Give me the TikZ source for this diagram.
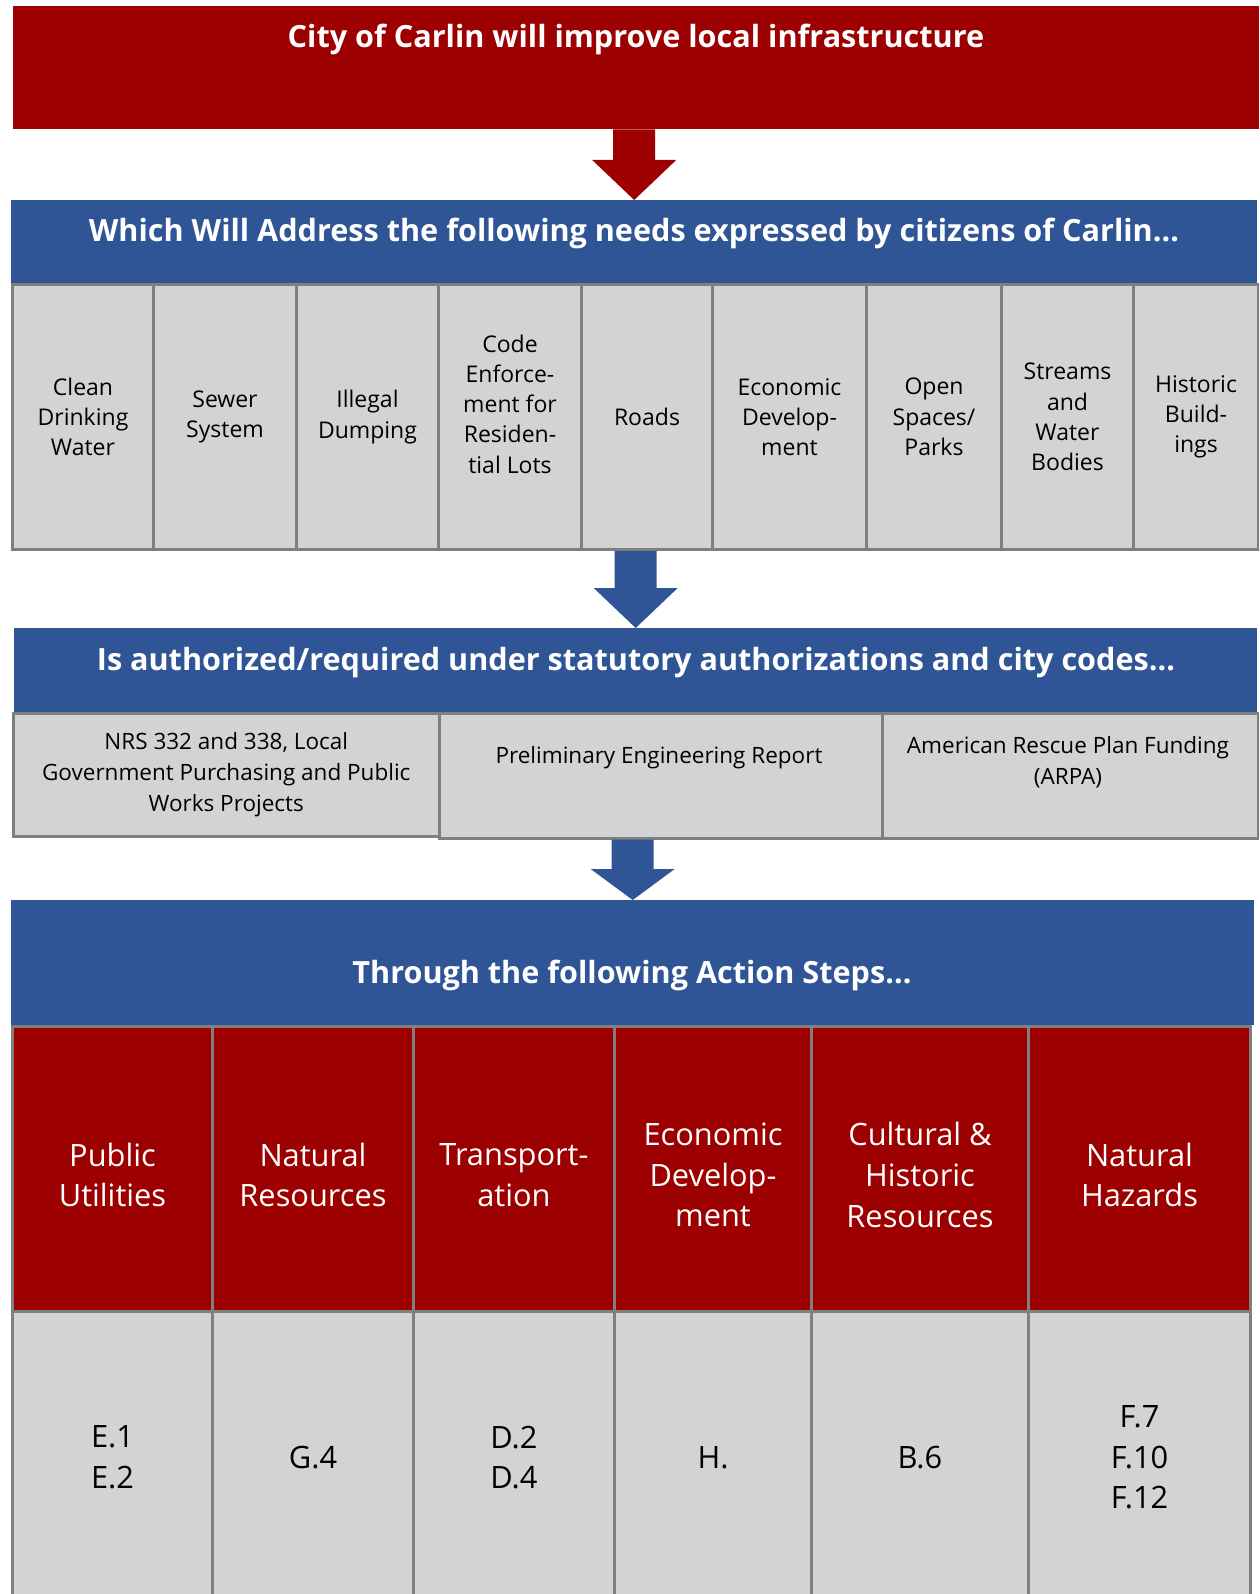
\documentclass[tikz,border=0pt]{standalone}
\usepackage{fontspec}
\setmainfont{Open Sans}
\usetikzlibrary{calc}

\definecolor{carlinred}{HTML}{9C0000}
\definecolor{carlinblue}{HTML}{2F5597}
\definecolor{cellgray}{HTML}{D3D3D3}
\definecolor{edgegray}{HTML}{7F7F7F}

\newcommand{\bandfont}{\fontsize{30.6}{36}\selectfont\bfseries}
\newcommand{\needfont}{\fontsize{23}{30.3}\selectfont}
\newcommand{\lawfont}{\fontsize{22.5}{31}\selectfont}
\newcommand{\stepfont}{\fontsize{30.8}{40.7}\selectfont}

% block arrow: colour, from, to, head length
\newcommand{\blockarrow}[4]{%
  \fill[#1] let \p1=(#2), \p2=(#3) in
    (\x2-21pt,\y1) -- (\x2+21pt,\y1) -- (\x2+21pt,\y2+#4) -- (\x2+42pt,\y2+#4)
    -- (\x2,\y2) -- (\x2-42pt,\y2+#4) -- (\x2-21pt,\y2+#4) -- cycle;}

\tikzset{
  bandbox/.style={inner sep=0pt, anchor=north west},
  bandtext/.style={text=white, font=\bandfont, anchor=base, inner sep=0pt},
  needcell/.style={draw=edgegray, line width=3pt, fill=cellgray, inner sep=0pt,
    anchor=north west, align=center, font=\needfont},
  lawcell/.style={draw=edgegray, line width=2.5pt, fill=cellgray, inner sep=0pt,
    anchor=north west, align=center, font=\lawfont},
  stepcell/.style={draw=edgegray, line width=3pt, fill=carlinred, inner sep=0pt,
    anchor=north west},
  steptext/.style={text=white, align=center, font=\stepfont, yshift=-6pt},
  codecell/.style={draw=edgegray, line width=3pt, fill=cellgray, inner sep=0pt,
    anchor=north west, align=center, font=\stepfont}
}

\begin{document}
\begin{tikzpicture}[x=1pt,y=-1pt]
 % page:
 \clip (0,0) rectangle (1259,1594);
 % goal box:
 \node[bandbox, fill=carlinred, minimum width=1246pt, minimum height=123pt] (goal) at (13,6) {};
 \node[bandtext] (goaltxt) at (636,48) {City of Carlin will improve local infrastructure};
 % needs band:
 \node[bandbox, fill=carlinblue, minimum width=1246pt, minimum height=83pt] (needs) at (11,200) {};
 \node[bandtext] (needstxt) at (634,242) {Which Will Address the following needs expressed by citizens of Carlin…};
 % needs cells:
 \foreach \xa/\xb/\txt [count=\i] in {11/152/{Clean\\Drinking\\Water}, 152/295/{Sewer\\System},
   295/437/{Illegal\\Dumping}, 437/580/{}, 580/711/{Roads}, 711/865/{Economic\\Develop-\\ment},
   865/1000/{Open\\Spaces/\\Parks}, 1000/1132/{Streams\\and\\Water\\Bodies},
   1132/1257/{Historic\\Build-\\ings}}
   \node[needcell, minimum width={(\xb-\xa)*1pt}, minimum height=265pt] (need\i) at (\xa,283) {\txt};
 \node[font=\needfont, align=center, yshift=13pt] (needtxt4) at (need4.center)
   {Code\\Enforce-\\ment for\\Residen-\\tial Lots};
 % authorization band:
 \node[bandbox, fill=carlinblue, minimum width=1243pt, minimum height=84pt] (auth) at (14,628) {};
 \node[bandtext] (authtxt) at (636,670) {Is authorized/required under statutory authorizations and city codes…};
 % authorization cells:
 \node[lawcell, minimum width=426pt, minimum height=123pt] (law1) at (12,712)
   {NRS 332 and 338, Local\\Government Purchasing and Public\\Works Projects};
 \node[lawcell, minimum width=443pt, minimum height=125pt] (law2) at (438,712) {};
 \node[lawcell, minimum width=376pt, minimum height=125pt] (law3) at (881,712) {};
 \node[font=\lawfont, anchor=base] (lawtxt2) at (659,763) {Preliminary Engineering Report};
 \node[font=\lawfont, align=center] (lawtxt3) at (1068,762) {American Rescue Plan Funding\\(ARPA)};
 % action steps band:
 \node[bandbox, fill=carlinblue, minimum width=1243pt, minimum height=125pt] (steps) at (11,900) {};
 \node[bandtext] (stepstxt) at (632,983) {Through the following Action Steps…};
 % action step cells:
 \foreach \xa/\xb/\txt/\code [count=\i] in {11/211/{Public\\Utilities}/{E.1\\E.2},
   211/412/{Natural\\Resources}/{G.4}, 412/613/{Transport-\\ation}/{D.2\\D.4},
   613/810/{Economic\\Develop-\\ment}/{H.}, 810/1027/{Cultural \&\\Historic\\Resources}/{B.6},
   1027/1249/{Natural\\Hazards}/{F.7\\F.10\\F.12}}
 {
   \node[stepcell, minimum width={(\xb-\xa)*1pt}, minimum height=285pt] (step\i) at (\xa,1025) {};
   \node[steptext] (steptxt\i) at (step\i.center) {\txt};
   \node[codecell, minimum width={(\xb-\xa)*1pt}, minimum height=292pt] (code\i) at (\xa,1310) {\code};
 }
 % arrows:
 \blockarrow{carlinred}{goal.south}{needs.north}{40pt}
 \blockarrow{carlinblue}{need1.south}{auth.north}{40pt}
 \blockarrow{carlinblue}{law2.south}{steps.north}{31pt}
\end{tikzpicture}
\end{document}
